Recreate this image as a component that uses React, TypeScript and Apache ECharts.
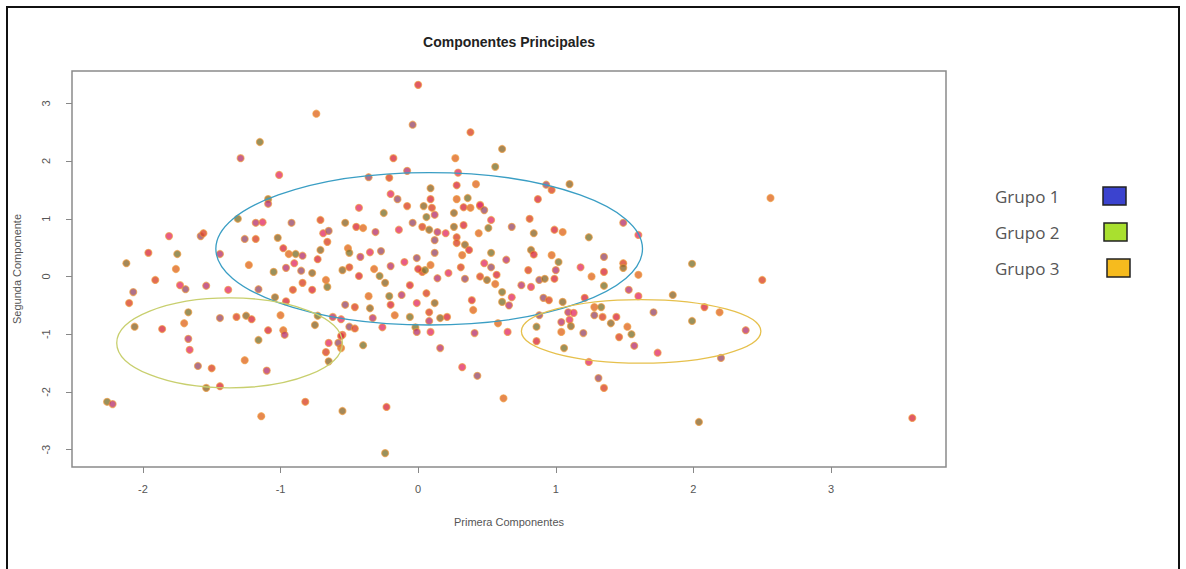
import React, { useEffect, useRef } from "react";
import * as echarts from "echarts";

// Principal component scores (first, second)
const pc1 = [
  0.00, -0.74, -1.15, -1.29, -1.01, -0.04, 0.38, 0.61, -0.18, 0.27, 0.56, -0.08, 0.29, -0.36, -0.21, 0.09, 0.28, 0.42,
  -1.09, -1.09, -0.20, -0.15, -0.08, 0.04, 0.09, 0.28, 0.36, 0.45, -0.43, 0.93, 0.97, 1.10, 0.87, 2.56,
  -1.31, -1.18, -1.13, -0.92, -0.71, -0.53, -0.45, -0.40, -0.25, -0.31, -0.14, -1.26, -1.18, -1.02, -0.98, -0.94,
  -0.89, -0.84, -0.69, -0.65, -0.66, -0.71, -0.73, -0.51, -0.50, -0.42, -0.35, -0.27, -0.50, -0.55, -0.43, -0.32,
  -0.28, -0.20, -0.10, -0.01, 0.03, -0.24, -0.06, -1.23, -1.05, -0.96, -0.90, -0.85, -0.84, -0.77, -0.77, -0.67,
  -0.66, -1.54, -1.38, -1.16, -0.91, -1.04, -0.96, -0.36, -0.21, -0.12, -0.01, -0.53, -0.46, -0.35, -0.20, -0.17,
  -0.06, -0.33, -0.26, -1.44, -1.32, -1.25, -1.21, -1.00, -0.73, -0.62, -0.56, -0.50, -0.46, -0.75, -1.09, -0.98,
  -1.16, -0.97, -0.55, -0.04, 0.03, 0.08, 0.00, 0.09, -0.02, 0.08,
  0.45, 0.48, 0.10, 0.26, 0.33, 0.38, 0.06, 0.12, 0.53, 0.68, 0.81, 0.26, 0.33, 0.44, 0.51, 0.14, 0.20, 0.12, 0.28,
  0.84, 0.99, 1.05, 1.24, 1.49, 1.60, 0.12, 0.28, 0.34, 0.37, 0.32, 0.53, 0.64, 0.48, 0.53, 0.31, 0.82, 0.84, 0.97,
  1.02, 1.00, 1.18, 1.35, 1.49, 1.49, 1.35, 1.60, 0.05, 0.14, 0.22, 0.34, 0.45, 0.50, 0.57, 0.56, 0.61, 0.75, 0.82,
  0.88, 0.80, 0.92, 0.99, 1.26, 1.35, 1.53, 1.60, 1.71, 0.06, 0.12, 0.39, 0.40, 0.61, 0.66, 0.68, 0.91, 0.95, 1.05,
  1.21, 1.28, 1.33, 1.09, 1.13, 0.88, 0.08, 0.16, 0.21, 0.58, 0.86, 1.04, 1.10, 1.28, 1.34, 1.40, 1.44, 1.52, 1.55,
  0.41, 0.65, 1.20, 1.46,
  1.11, 0.86, 1.04, 1.06, 1.57, 1.24, 1.31, 1.35, 1.85, 2.08, 2.19, 1.99, 2.38, 1.74, 2.20, 2.50, 2.04, 3.59, 0.62, 1.99,
  -1.10, -0.65, -0.58, -0.67, -0.65, -0.56, -0.56, -0.40, 0.16, 0.32, 0.43, -0.82, -0.55, -0.23, -1.14, -0.24, -0.01, 0.09,
  -2.07, -2.10, -2.06, -1.86, -1.70, -1.67, -1.67, -1.66, -1.60, -1.50, -1.54, -1.44, -1.26, -2.26, -2.22, -1.73, -1.69, -1.91,
  -2.12, -1.96, -1.76, -1.75, -1.44, -1.81, -1.58, -1.56
];
const pc2 = [
  3.32, 2.82, 2.33, 2.05, 1.76, 2.63, 2.50, 2.21, 2.05, 2.05, 1.90, 1.83, 1.80, 1.72, 1.71, 1.53, 1.58, 1.60,
  1.34, 1.26, 1.43, 1.34, 1.22, 1.22, 1.34, 1.34, 1.36, 1.22, 1.19, 1.59, 1.50, 1.60, 1.34, 1.36,
  1.00, 0.93, 0.94, 0.93, 0.98, 0.93, 0.86, 0.84, 1.10, 0.77, 0.81, 0.65, 0.65, 0.67, 0.49, 0.39,
  0.39, 0.36, 0.75, 0.79, 0.60, 0.46, 0.30, 0.49, 0.41, 0.34, 0.42, 0.44, 0.16, 0.11, 0.01, 0.13,
  0.01, 0.18, 0.25, 0.32, 0.08, -0.11, -0.15, 0.20, 0.08, 0.15, 0.23, 0.10, -0.11, 0.06, -0.23, -0.06,
  -0.18, -0.16, -0.23, -0.22, -0.23, -0.36, -0.43, -0.34, -0.34, -0.32, -0.46, -0.49, -0.53, -0.55, -0.49, -0.67,
  -0.70, -0.72, -0.88, -0.72, -0.70, -0.68, -0.74, -0.67, -0.68, -0.70, -0.74, -0.87, -0.90, -0.84, -0.93, -0.93,
  -1.10, -1.01, -1.01, 0.93, 0.86, 0.81, 0.13, 0.20, -0.88, -0.77,
  1.24, 1.15, 1.19, 1.10, 1.20, 1.19, 1.03, 1.07, 0.98, 0.86, 1.00, 0.86, 0.89, 0.75, 0.84, 0.77, 0.75, 0.63, 0.68,
  0.75, 0.81, 0.77, 0.68, 0.93, 0.72, 0.41, 0.58, 0.55, 0.46, 0.37, 0.41, 0.29, 0.23, 0.16, 0.16, 0.46, 0.38, 0.37,
  0.25, 0.11, 0.16, 0.34, 0.23, 0.15, 0.08, 0.03, 0.11, -0.03, 0.06, -0.04, 0.00, -0.06, 0.03, -0.13, -0.27, -0.15, -0.18,
  -0.06, 0.11, -0.04, -0.04, 0.00, -0.16, -0.23, -0.34, -0.62, -0.29, -0.46, -0.41, -0.58, -0.44, -0.50, -0.36, -0.37, -0.41, -0.44,
  -0.37, -0.53, -0.53, -0.62, -0.63, -0.67, -0.62, -0.72, -0.70, -0.81, -0.87, -0.79, -0.75, -0.67, -0.70, -0.81, -0.70, -0.87, -1.00,
  -0.98, -0.96, -0.98, -1.05,
  -0.86, -1.12, -0.96, -1.24, -1.20, -1.48, -1.76, -1.93, -0.32, -0.53, -0.62, -0.77, -0.93, -1.32, -1.41, -0.06, -2.52, -2.45, -2.11, 0.22,
  -1.63, -1.15, -1.15, -1.31, -1.47, -1.03, -1.24, -1.19, -1.24, -1.57, -1.72, -2.17, -2.33, -2.26, -2.42, -3.06, -0.96, -0.96,
  -0.27, -0.46, -0.87, -0.91, -0.81, -0.62, -1.08, -1.27, -1.55, -1.59, -1.93, -1.90, -1.45, -2.17, -2.21, -0.15, -0.22, -0.06,
  0.23, 0.41, 0.13, 0.39, 0.39, 0.70, 0.70, 0.75
];

const xTicks = [-2, -1, 0, 1, 2, 3];
const yTicks = [-3, -2, -1, 0, 1, 2, 3];

// Group ellipses: centre and semi-axes, in data units
const ellipseCx = [0.08, -1.37, 1.62];
const ellipseCy = [0.48, -1.15, -0.95];
const ellipseRx = [1.55, 0.82, 0.87];
const ellipseRy = [1.32, 0.78, 0.55];

const groupNames = ["Grupo 1", "Grupo 2", "Grupo 3"];

// styles
const ellipseColors = ["#3a9ec4", "#c8cf6e", "#e6c04c"];
const legendFills = ["#3b43cf", "#a9e02f", "#f6bb1e"];
const pointFills = ["#d83040", "#e06a25", "#7f7535", "#b83a72", "#e2336a", "#9a4f6e", "#d9462c", "#8d6a30"];

export default function App() {
  const ref = useRef<HTMLDivElement>(null);
  useEffect(() => {
    if (!ref.current) return;
    const chart = echarts.init(ref.current, undefined, { renderer: "svg" });
    const points = pc1.map((x, i) => [x, pc2[i]]);
    const ellipses = ellipseCx.map((cx, i) => [cx, ellipseCy[i], ellipseRx[i], ellipseRy[i]]);
    const legendGraphics: any[] = [];
    groupNames.forEach((name, i) => {
      const cy = [196, 232, 268][i];
      legendGraphics.push({
        type: "text",
        x: 995,
        y: cy,
        style: { text: name, fill: "#555", font: "17px 'Open Sans', sans-serif", verticalAlign: "middle", align: "left" },
      });
      const bx = [1103, 1104, 1107][i];
      legendGraphics.push({
        type: "rect",
        shape: { x: bx, y: cy - 9, width: 23, height: 18 },
        style: { fill: legendFills[i], stroke: "#222", lineWidth: 1.5 },
      });
    });
    chart.setOption({
      animation: false,
      backgroundColor: "#ffffff",
      grid: {
        left: 72,
        top: 71,
        right: 240,
        bottom: 102,
        containLabel: false,
        outerBoundsMode: "none",
        show: true,
        borderColor: "#8a8a8a",
        borderWidth: 1.5,
        backgroundColor: "transparent",
      },
      xAxis: {
        type: "value",
        min: -2.515,
        max: 3.835,
        splitLine: { show: false },
        axisLine: { show: false, onZero: false },
        axisTick: { show: true, customValues: xTicks, length: 6, inside: false, lineStyle: { color: "#888" } },
        axisLabel: { customValues: xTicks, color: "#555", fontSize: 11, margin: 16, fontFamily: "'Liberation Sans', Arial, sans-serif" },
      },
      yAxis: {
        type: "value",
        min: -3.3,
        max: 3.56,
        splitLine: { show: false },
        axisLine: { show: false, onZero: false },
        axisTick: { show: true, customValues: yTicks, length: 6, inside: false, lineStyle: { color: "#888" } },
        axisLabel: { customValues: yTicks, color: "#555", fontSize: 11, margin: 21, rotate: 90, fontFamily: "'Liberation Sans', Arial, sans-serif" },
      },
      series: [
        {
          type: "scatter",
          data: points,
          symbolSize: 7,
          itemStyle: {
            color: (p: any) => pointFills[p.dataIndex % pointFills.length],
            borderColor: "rgba(238,150,55,0.8)",
            borderWidth: 1.2,
          },
          z: 2,
        },
        {
          type: "custom",
          data: ellipses,
          z: 3,
          renderItem: (params: any, api: any) => {
            const c = api.coord([api.value(0), api.value(1)]);
            const s = api.size([api.value(2), api.value(3)]);
            return {
              type: "ellipse",
              shape: { cx: c[0], cy: c[1], rx: s[0], ry: s[1] },
              style: { fill: "none", stroke: ellipseColors[params.dataIndex], lineWidth: 1.3 },
            };
          },
        },
      ],
      graphic: [
        {
          type: "rect",
          shape: { x: 7, y: 7, width: 1172, height: 620 },
          style: { fill: "none", stroke: "#111", lineWidth: 2 },
        },
        {
          type: "text",
          x: 509,
          y: 42,
          style: { text: "Componentes Principales", fill: "#222", font: "bold 14px 'Liberation Sans', Arial, sans-serif", align: "center", verticalAlign: "middle" },
        },
        {
          type: "text",
          x: 509,
          y: 522,
          style: { text: "Primera Componentes", fill: "#555", font: "11px 'Liberation Sans', Arial, sans-serif", align: "center", verticalAlign: "middle" },
        },
        {
          type: "text",
          x: 17,
          y: 269,
          rotation: Math.PI / 2,
          style: { text: "Segunda Componente", fill: "#555", font: "11px 'Liberation Sans', Arial, sans-serif", align: "center", verticalAlign: "middle" },
        },
        ...legendGraphics,
      ],
    });
    return () => chart.dispose();
  }, []);
  return <div ref={ref} style={{ position: "fixed", left: 0, top: 0, width: 1186, height: 569 }} />;
}
